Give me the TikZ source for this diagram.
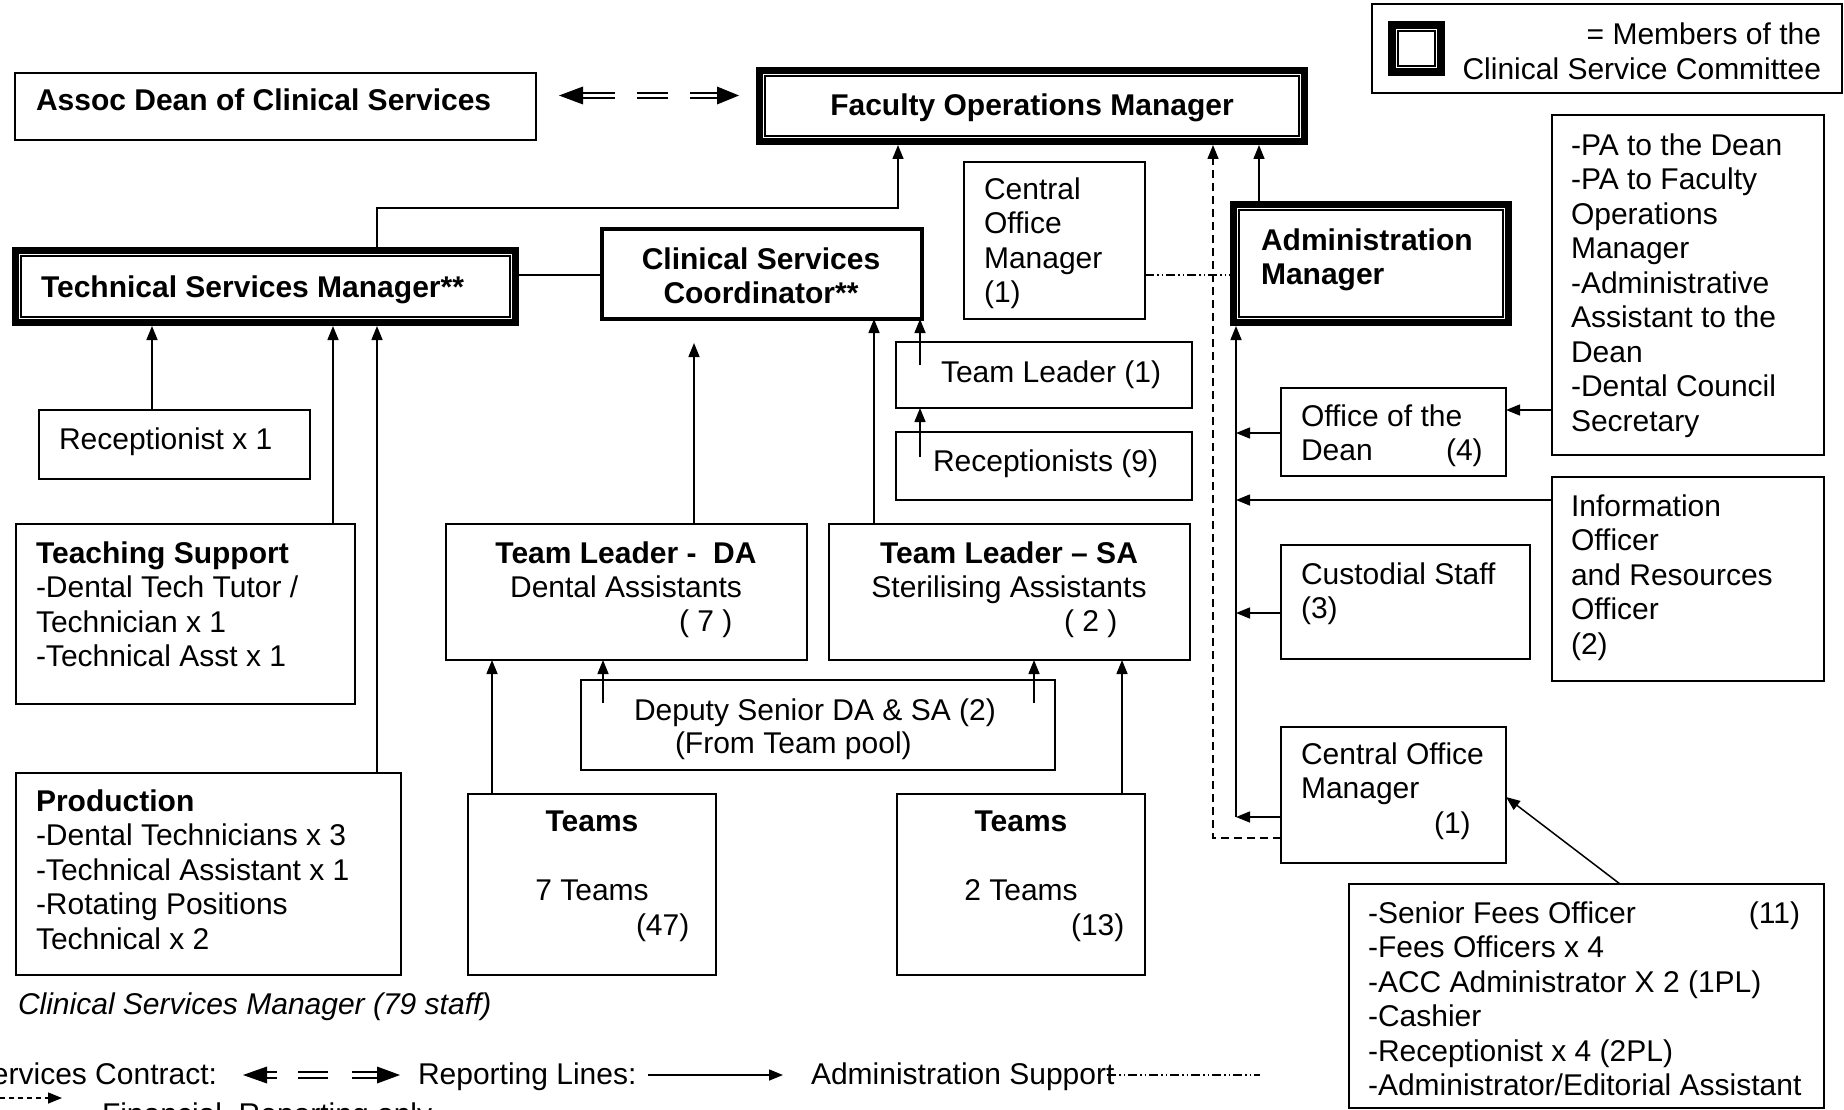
\documentclass[tikz,border=0pt]{standalone}
\usepackage{fontspec}
\setmainfont{Liberation Sans}
\usetikzlibrary{arrows.meta,calc}
\newcommand\fl{\rule{0pt}{24pt}}
\newcommand\fs{\fontsize{30}{34.5}\selectfont}
\newcommand\cmtinner[1]{\draw[line width=1.2pt] ($(#1.north west)+(9pt,-9pt)$) rectangle ($(#1.south east)+(-9pt,9pt)$);}
\begin{document}
\begin{tikzpicture}[x=1pt,y=-1pt,
  box/.style={draw, line width=1.8pt, anchor=north west, inner sep=0pt, outer sep=0pt},
  cbox/.style={draw, line width=7pt, anchor=north west, inner sep=0pt, outer sep=3.5pt},
  txt/.style={inner sep=0pt, outer sep=0pt, anchor=north west, align=left, font=\fs},
  btxt/.style={txt, font=\fs\bfseries},
  ctxt/.style={txt, anchor=north, align=center},
  ln/.style={line width=1.5pt},
  arr/.style={ln, -{Triangle[width=11pt,length=14pt]}},
  findash/.style={ln, dash pattern=on 8pt off 5pt},
  ddot/.style={line width=1.3pt, dash pattern=on 9pt off 3pt on 1.5pt off 3pt on 1.5pt off 3pt},
  dline/.style={line width=2pt}]
\useasboundingbox (0,0) rectangle (1844,1110);
\clip (0,0) rectangle (1844,1110);

% ---------- boxes ----------
\node[box, minimum width=521pt, minimum height=67pt] (assoc) at (15,73) {};
\node[cbox, minimum width=552pt-7pt, minimum height=78pt-7pt] (fom) at (756,67) {};
\node[box, line width=1.5pt, minimum width=470pt, minimum height=89pt] (legend) at (1372,4) {};
\node[draw, line width=8pt, anchor=north west, inner sep=0pt, outer sep=4pt, minimum width=49pt, minimum height=47pt] (icon) at (1388,21) {};
\draw[line width=1.3pt] ($(icon.north west)+(10pt,-10pt)$) rectangle ($(icon.south east)+(-10pt,10pt)$);
\node[cbox, minimum width=507pt-7pt, minimum height=79pt-7pt] (tsm) at (12,247) {};
\node[box, line width=3.5pt, minimum width=320pt, minimum height=90pt] (csc) at (602,229) {};
\node[box, minimum width=181pt, minimum height=157pt] (com1) at (964,162) {};
\node[cbox, minimum width=282pt-7pt, minimum height=125pt-7pt] (am) at (1230,201) {};
\node[box, minimum width=272pt, minimum height=340pt] (pa) at (1552,115) {};
\node[box, minimum width=296pt, minimum height=66pt] (tl1) at (896,342) {};
\node[box, minimum width=296pt, minimum height=68pt] (rec9) at (896,432) {};
\node[box, minimum width=225pt, minimum height=88pt] (ootd) at (1281,388) {};
\node[box, minimum width=271pt, minimum height=69pt] (rec1) at (39,410) {};
\node[box, minimum width=339pt, minimum height=180pt] (teach) at (16,524) {};
\node[box, minimum width=361pt, minimum height=136pt] (tlda) at (446,524) {};
\node[box, minimum width=361pt, minimum height=136pt] (tlsa) at (829,524) {};
\node[box, minimum width=272pt, minimum height=204pt] (info) at (1552,477) {};
\node[box, minimum width=249pt, minimum height=114pt] (cust) at (1281,545) {};
\node[box, minimum width=474pt, minimum height=90pt] (dep) at (581,680) {};
\node[box, minimum width=385pt, minimum height=202pt] (prod) at (16,773) {};
\node[box, minimum width=248pt, minimum height=181pt] (teams7) at (468,794) {};
\node[box, minimum width=248pt, minimum height=181pt] (teams2) at (897,794) {};
\node[box, minimum width=225pt, minimum height=136pt] (com2) at (1281,727) {};
\node[box, minimum width=475pt, minimum height=224pt] (fees) at (1349,884) {};
\cmtinner{fom}
\cmtinner{tsm}
\cmtinner{am}

% ---------- texts ----------
\node[btxt] (tassoc) at (36,111-24) {\fl Assoc Dean of Clinical Services};
\node[btxt, anchor=north] (tfom) at (1032,116-24) {\fl Faculty Operations Manager};
\node[txt, anchor=north east, align=right] (tleg) at (1821,45-24) {\fl = Members of the\\Clinical Service Committee};
\node[btxt] (ttsm) at (41,297-24) {\fl Technical Services Manager**};
\node[btxt, anchor=north, align=center] (tcsc) at (761,269-24) {\fl Clinical Services\\Coordinator**};
\node[txt] (tcom1) at (984,199-24) {\fl Central\\Office\\Manager\\(1)};
\node[btxt] (tam) at (1261,250-24) {\fl Administration\\Manager};
\node[txt] (tpa) at (1571,155-24) {\fl -PA to the Dean\\-PA to Faculty\\Operations\\Manager\\-Administrative\\Assistant to the\\Dean\\-Dental Council\\Secretary};
\node[txt] (trec1) at (59,449-24) {\fl Receptionist x 1};
\node[txt] (ttl1) at (941,382-24) {\fl Team Leader (1)};
\node[txt] (trec9) at (933,471-24) {\fl Receptionists (9)};
\node[txt] (tootd) at (1301,426-24) {\fl Office of the\\Dean};
\node[txt] (tootdn) at (1446,460-24) {\fl (4)};
\node[txt] (tteach) at (36,563-24) {\fl\textbf{Teaching Support}\\-Dental Tech Tutor /\\Technician x 1\\-Technical Asst x 1};
\node[ctxt] (ttlda) at (626,563-24) {\fl\textbf{Team Leader -\ \ DA}\\Dental Assistants};
\node[txt] (ttldan) at (679,631-24) {\fl ( 7 )};
\node[ctxt] (ttlsa) at (1009,563-24) {\fl\textbf{Team Leader – SA}\\Sterilising Assistants};
\node[txt] (ttlsan) at (1064,631-24) {\fl ( 2 )};
\node[txt] (tinfo) at (1571,516-24) {\fl Information\\Officer\\and Resources\\Officer\\(2)};
\node[txt] (tcust) at (1301,584-24) {\fl Custodial Staff\\(3)};
\node[txt] (tdep1) at (634,720-24) {\fl Deputy Senior DA \& SA (2)};
\node[txt] (tdep2) at (675,753-24) {\fl (From Team pool)};
\node[txt] (tprod) at (36,811-24) {\fl\textbf{Production}\\-Dental Technicians x 3\\-Technical Assistant x 1\\-Rotating Positions\\Technical x 2};
\node[btxt, anchor=north] (tteams7) at (592,831-24) {\fl Teams};
\node[txt, anchor=north] (tteams7b) at (592,900-24) {\fl 7 Teams};
\node[txt] (tteams7n) at (636,935-24) {\fl (47)};
\node[btxt, anchor=north] (tteams2) at (1021,831-24) {\fl Teams};
\node[txt, anchor=north] (tteams2b) at (1021,900-24) {\fl 2 Teams};
\node[txt] (tteams2n) at (1071,935-24) {\fl (13)};
\node[txt] (tcom2) at (1301,764-24) {\fl Central Office\\Manager};
\node[txt] (tcom2n) at (1434,833-24) {\fl (1)};
\node[txt] (tfees) at (1368,923-24) {\fl -Senior Fees Officer\\-Fees Officers x 4\\-ACC Administrator X 2 (1PL)\\-Cashier\\-Receptionist x 4 (2PL)\\-Administrator/Editorial Assistant};
\node[txt, anchor=north east] (tfeesn) at (1800,923-24) {\fl (11)};
\node[txt, font=\fs\itshape] (tcap) at (18,1014-24) {\fl Clinical Services Manager (79 staff)};

% ---------- helper coordinates ----------
\coordinate (xA) at (152,0);  \coordinate (xB) at (333,0);  \coordinate (xC) at (377,0);
\coordinate (xD) at (898,0);  \coordinate (xE) at (1259,0); \coordinate (xF) at (1213,0);
\coordinate (xG) at (694,0);  \coordinate (xH) at (874,0);  \coordinate (xI) at (920,0);
\coordinate (xJ) at (492,0);  \coordinate (xK) at (603,0);  \coordinate (xL) at (1034,0);
\coordinate (xM) at (1122,0); \coordinate (xN) at (1236,0); \coordinate (xO) at (1620,0);
\coordinate (yA) at (0,208);  \coordinate (yB) at (0,343);  \coordinate (yC) at (0,365);
\coordinate (yD) at (0,457);  \coordinate (yE) at (0,703);  \coordinate (yF) at (0,433);
\coordinate (yG) at (0,500);  \coordinate (yH) at (0,613);  \coordinate (yI) at (0,817);
\coordinate (yJ) at (0,410);  \coordinate (yK) at (0,838);  \coordinate (yL) at (0,275);
\coordinate (yM) at (0,797);
\coordinate (cscTip) at (xG |- yB);

% ---------- connectors ----------
\draw[arr] (tsm.north -| xC) -- (yA -| xC) -- (yA -| xD) -- (fom.south -| xD);
\draw[arr] (am.north -| xE) -- (fom.south -| xE);
\draw[findash, -{Triangle[width=11pt,length=14pt]}] (com2.west |- yK) -- (xF |- yK) -- (fom.south -| xF);
\draw[ddot] (com1.east |- yL) -- (am.west |- yL);
\draw[ln] (tsm.east |- yL) -- (csc.west |- yL);
\draw[arr] (rec1.north -| xA) -- (tsm.south -| xA);
\draw[arr] (teach.north -| xB) -- (tsm.south -| xB);
\draw[arr] (prod.north -| xC) -- (tsm.south -| xC);
\draw[arr] (tlda.north -| xG) -- (cscTip);
\draw[arr] (tlsa.north -| xH) -- (csc.south -| xH);
\draw[arr] (yC -| xI) -- (csc.south -| xI);
\draw[arr] (yD -| xI) -- (tl1.south -| xI);
\draw[arr] (teams7.north -| xJ) -- (tlda.south -| xJ);
\draw[arr] (yE -| xK) -- (tlda.south -| xK);
\draw[arr] (yE -| xL) -- (tlsa.south -| xL);
\draw[arr] (teams2.north -| xM) -- (tlsa.south -| xM);
\draw[arr] (yI -| xN) -- (am.south -| xN);
\draw[arr] (ootd.west |- yF) -- (xN |- yF);
\draw[arr] (info.west |- yG) -- (xN |- yG);
\draw[arr] (cust.west |- yH) -- (xN |- yH);
\draw[arr] (com2.west |- yI) -- (xN |- yI);
\draw[arr] (pa.west |- yJ) -- (ootd.east |- yJ);
\draw[arr] (fees.north -| xO) -- (com2.east |- yM);

% ---------- services contract symbol (top) ----------
\fill (559,95.5) -- (583,86.5) -- (583,104.5) -- cycle;
\draw[dline] (581,92.8) -- (615,92.8) (581,98.2) -- (615,98.2);
\draw[dline] (637,92.8) -- (668,92.8) (637,98.2) -- (668,98.2);
\draw[dline] (690,92.8) -- (719,92.8) (690,98.2) -- (719,98.2);
\fill (739,95.5) -- (717,86.5) -- (717,104.5) -- cycle;

% ---------- bottom legend ----------
\node[txt, anchor=north east] (lsvc) at (217,1084-24) {\fl Services Contract:};
\fill (243,1075) -- (267,1066.5) -- (267,1083.5) -- cycle;
\draw[dline] (266,1072.3) -- (277,1072.3) (266,1077.7) -- (277,1077.7);
\draw[dline] (298,1072.3) -- (328,1072.3) (298,1077.7) -- (328,1077.7);
\draw[dline] (352,1072.3) -- (378,1072.3) (352,1077.7) -- (378,1077.7);
\fill (400,1075) -- (377,1066.5) -- (377,1083.5) -- cycle;
\node[txt] (lrep) at (418,1084-24) {\fl Reporting Lines:};
\coordinate (lrepA) at (648,1075);
\coordinate (lrepB) at (783,1075);
\draw[arr] (lrepA) -- (lrepB);
\node[txt] (ladm) at (811,1084-24) {\fl Administration Support};
\coordinate (ladmA) at (1107,1075);
\coordinate (ladmB) at (1260,1075);
\draw[ddot] (ladmA) -- (ladmB);
\coordinate (lfinA) at (0,1098);
\coordinate (lfinB) at (62,1098);
\draw[ln, dash pattern=on 5pt off 4pt, -{Triangle[width=11pt,length=14pt]}] (lfinA) -- (lfinB);
\node[txt] (lfin) at (102,1124-24) {\fl Financial\ \ Reporting only};
\end{tikzpicture}
\end{document}
